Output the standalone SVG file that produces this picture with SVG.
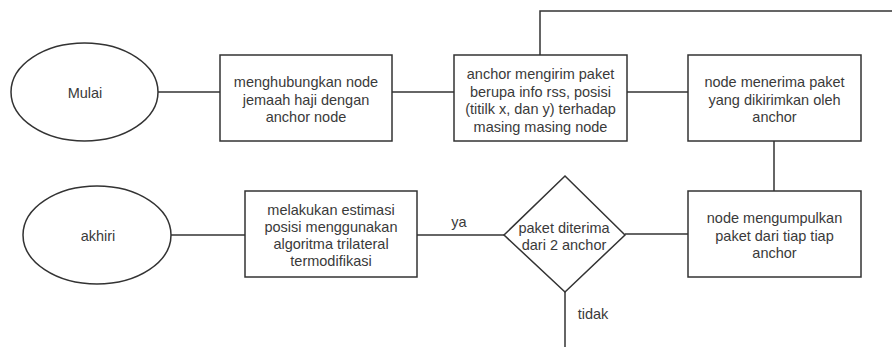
<svg xmlns="http://www.w3.org/2000/svg" width="892" height="347" viewBox="0 0 892 347">
<style>
.s{fill:#fff;stroke:#333;stroke-width:1.5}
.c{fill:none;stroke:#333;stroke-width:1.5}
text{font-family:"Liberation Sans",Arial,sans-serif;font-size:14.5px;fill:#3a3a3a;text-anchor:middle}
</style>
<rect width="892" height="347" fill="#fff"/>
<g id="connectors">
<path class="c" d="M158 92H220"/>
<path class="c" d="M392 92H454"/>
<path class="c" d="M627 92H688"/>
<path class="c" d="M540 55V11H892"/>
<path class="c" d="M774 141V191"/>
<path class="c" d="M688 234H625"/>
<path class="c" d="M504 235H417"/>
<path class="c" d="M245 235H171"/>
<path class="c" d="M565 292V347"/>
<text x="459" y="227">ya</text>
<text x="593" y="319">tidak</text>
</g>
<g id="mulai">
<ellipse class="s" cx="84.5" cy="92" rx="73.5" ry="49"/>
<text x="85" y="98">Mulai</text>
</g>
<g id="hubungkan">
<rect class="s" x="220" y="55" width="172" height="86"/>
<text x="306" y="87">menghubungkan node</text>
<text x="306" y="104.5">jemaah haji dengan</text>
<text x="306" y="122">anchor node</text>
</g>
<g id="kirim">
<rect class="s" x="454" y="55" width="173" height="86"/>
<text x="540.5" y="79">anchor mengirim paket</text>
<text x="540.5" y="96.5">berupa info rss, posisi</text>
<text x="540.5" y="114">(titilk x, dan y) terhadap</text>
<text x="540.5" y="131.5">masing masing node</text>
</g>
<g id="terima">
<rect class="s" x="688" y="55" width="173" height="86"/>
<text x="774.5" y="87">node menerima paket</text>
<text x="774.5" y="104.5">yang dikirimkan oleh</text>
<text x="774.5" y="122">anchor</text>
</g>
<g id="kumpulkan">
<rect class="s" x="688" y="191" width="173" height="86"/>
<text x="774.5" y="223">node mengumpulkan</text>
<text x="774.5" y="240.5">paket dari tiap tiap</text>
<text x="774.5" y="258">anchor</text>
</g>
<g id="decision">
<polygon class="s" points="565,176 625,235 565,292 504,235"/>
<text x="564" y="233">paket diterima</text>
<text x="564" y="250">dari 2 anchor</text>
</g>
<g id="estimasi">
<rect class="s" x="245" y="191" width="172" height="86"/>
<text x="331" y="215">melakukan estimasi</text>
<text x="331" y="232">posisi menggunakan</text>
<text x="331" y="249">algoritma trilateral</text>
<text x="331" y="266">termodifikasi</text>
</g>
<g id="akhiri">
<ellipse class="s" cx="97" cy="235" rx="74" ry="49"/>
<text x="98" y="241">akhiri</text>
</g>
</svg>
